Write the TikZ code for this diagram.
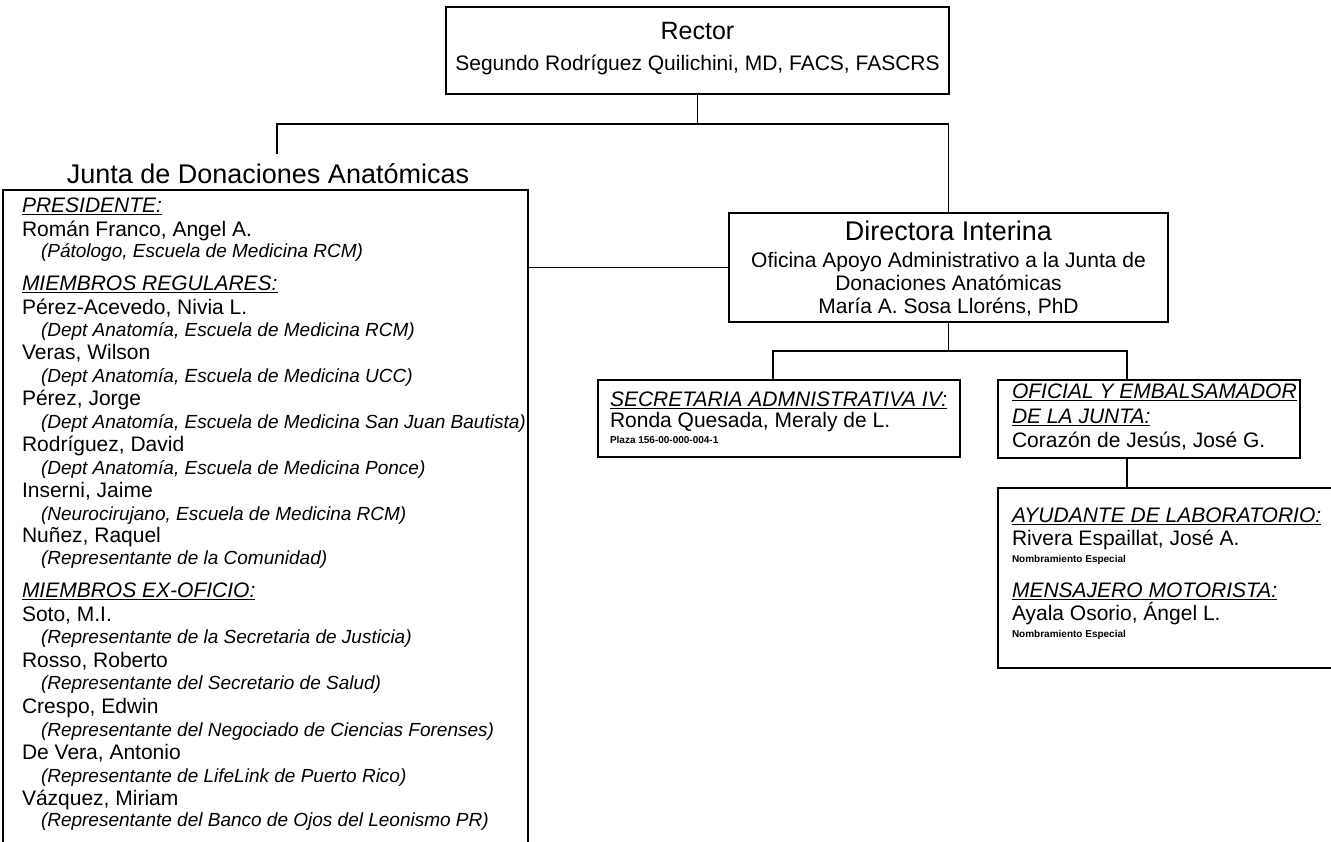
\documentclass[tikz,border=0pt]{standalone}
\usepackage{fontspec}
\setmainfont{Liberation Sans}
\newcommand\fhead{\fontsize{21}{23}\selectfont}
\newcommand\fital{\fontsize{19}{21}\selectfont\itshape}
\newcommand\fbig{\fontsize{27}{30}\selectfont}
\newcommand\frect{\fontsize{25}{27}\selectfont}
\newcommand\fsmall{\fontsize{10}{12}\selectfont\bfseries}
\newcommand\undl[1]{\setbox0=\hbox{#1}\rlap{\rule[-2.6pt]{\wd0}{1.1pt}}\box0}
\begin{document}
\begin{tikzpicture}[x=1pt,y=-1pt,
  box/.style={draw=black,line width=1.2pt,inner sep=0pt,outer sep=0pt,anchor=north west,rectangle},
  txt/.style={inner sep=0pt,outer sep=0pt,anchor=base west},
  ctxt/.style={inner sep=0pt,outer sep=0pt,anchor=base},
  conn/.style={draw=black,line width=1.2pt}]
\useasboundingbox (0,0) rectangle (1331,841);
\fill[white] (0,0) rectangle (1331,841);
% boxes
\node[box,minimum width=503pt,minimum height=87pt] (rector) at (446,7) {};
\node[box,minimum width=525pt,minimum height=680pt] (junta) at (3,190) {};
\node[box,minimum width=439pt,minimum height=109pt] (dir) at (729,213) {};
\node[box,minimum width=362pt,minimum height=77pt] (sec) at (598,380) {};
\node[box,minimum width=302pt,minimum height=78pt] (ofi) at (998,380) {};
\node[box,minimum width=350pt,minimum height=180pt] (ayu) at (998,488) {};
% connectors
\coordinate (hbar) at (0,124);
\coordinate (jtop) at (277,154);
\coordinate (hb2) at (0,351);
\coordinate (secin) at (773,380);
\coordinate (ofiin) at (1127,380);
\draw[conn] (rector.south) -- (rector.south |- hbar);
\draw[conn] (jtop) -- (jtop |- hbar) -| (dir.north);
\draw[conn] (junta.east |- dir.west) -- (dir.west);
\draw[conn] (dir.south) -- (dir.south |- hb2);
\draw[conn] (secin) -- (secin |- hb2) -- (ofiin |- hb2) -- (ofiin);
\draw[conn] (ofi.south -| ofiin) -- (ayu.north -| ofiin);
% Rector
\node[ctxt] (r1) at (697.5,39) {\frect Rector};
\node[ctxt] (r2) at (697.5,70) {\fhead Segundo Rodríguez Quilichini, MD, FACS, FASCRS};
% Junta title
\node[ctxt] (jt) at (268,183) {\fbig Junta de Donaciones Anatómicas};
% Junta contents
\node[txt] (l1) at (22,212) {\fhead\undl{\itshape PRESIDENTE:}};
\node[txt] (l2) at (22,236) {\fhead Román Franco, Angel A.};
\node[txt] (l3) at (41,257) {\fital (Pátologo, Escuela de Medicina RCM)};
\node[txt] (l4) at (22,290) {\fhead\undl{\itshape MIEMBROS REGULARES:}};
\node[txt] (l5) at (22,314) {\fhead Pérez-Acevedo, Nivia L.};
\node[txt] (l6) at (41,336) {\fital (Dept Anatomía, Escuela de Medicina RCM)};
\node[txt] (l7) at (22,359) {\fhead Veras, Wilson};
\node[txt] (l8) at (41,382) {\fital (Dept Anatomía, Escuela de Medicina UCC)};
\node[txt] (l9) at (22,405) {\fhead Pérez, Jorge};
\node[txt] (l10) at (41,428) {\fital (Dept Anatomía, Escuela de Medicina San Juan Bautista)};
\node[txt] (l11) at (22,451) {\fhead Rodríguez, David};
\node[txt] (l12) at (41,474) {\fital (Dept Anatomía, Escuela de Medicina Ponce)};
\node[txt] (l13) at (22,497) {\fhead Inserni, Jaime};
\node[txt] (l14) at (41,520) {\fital (Neurocirujano, Escuela de Medicina RCM)};
\node[txt] (l15) at (22,542) {\fhead Nuñez, Raquel};
\node[txt] (l16) at (41,564) {\fital (Representante de la Comunidad)};
\node[txt] (l17) at (22,597) {\fhead\undl{\itshape MIEMBROS EX-OFICIO:}};
\node[txt] (l18) at (22,621) {\fhead Soto, M.I.};
\node[txt] (l19) at (41,643) {\fital (Representante de la Secretaria de Justicia)};
\node[txt] (l20) at (22,667) {\fhead Rosso, Roberto};
\node[txt] (l21) at (41,689) {\fital (Representante del Secretario de Salud)};
\node[txt] (l22) at (22,713) {\fhead Crespo, Edwin};
\node[txt] (l23) at (41,736) {\fital (Representante del Negociado de Ciencias Forenses)};
\node[txt] (l24) at (22,759) {\fhead De Vera, Antonio};
\node[txt] (l25) at (41,782) {\fital (Representante de LifeLink de Puerto Rico)};
\node[txt] (l26) at (22,805) {\fhead Vázquez, Miriam};
\node[txt] (l27) at (41,826) {\fital (Representante del Banco de Ojos del Leonismo PR)};
% Directora
\node[ctxt] (d1) at (948.5,240) {\fbig Directora Interina};
\node[ctxt] (d2) at (948.5,267) {\fhead Oficina Apoyo Administrativo a la Junta de};
\node[ctxt] (d3) at (948.5,290) {\fhead Donaciones Anatómicas};
\node[ctxt] (d4) at (948.5,313) {\fhead María A. Sosa Lloréns, PhD};
% Secretaria
\node[txt] (s1) at (610,406) {\fhead\undl{\itshape SECRETARIA ADMNISTRATIVA IV:}};
\node[txt] (s2) at (610,427) {\fhead Ronda Quesada, Meraly de L.};
\node[txt] (s3) at (610,443) {\fsmall Plaza 156-00-000-004-1};
% Oficial
\node[txt] (o1) at (1012,398) {\fhead\undl{\itshape OFICIAL Y EMBALSAMADOR}};
\node[txt] (o2) at (1012,423) {\fhead\undl{\itshape DE LA JUNTA:}};
\node[txt] (o3) at (1012,447) {\fhead Corazón de Jesús, José G.};
% Ayudante
\node[txt] (a1) at (1012,522) {\fhead\undl{\itshape AYUDANTE DE LABORATORIO:}};
\node[txt] (a2) at (1012,545) {\fhead Rivera Espaillat, José A.};
\node[txt] (a3) at (1012,562) {\fsmall Nombramiento Especial};
\node[txt] (a4) at (1012,597) {\fhead\undl{\itshape MENSAJERO MOTORISTA:}};
\node[txt] (a5) at (1012,620) {\fhead Ayala Osorio, Ángel L.};
\node[txt] (a6) at (1012,637) {\fsmall Nombramiento Especial};
\end{tikzpicture}
\end{document}
